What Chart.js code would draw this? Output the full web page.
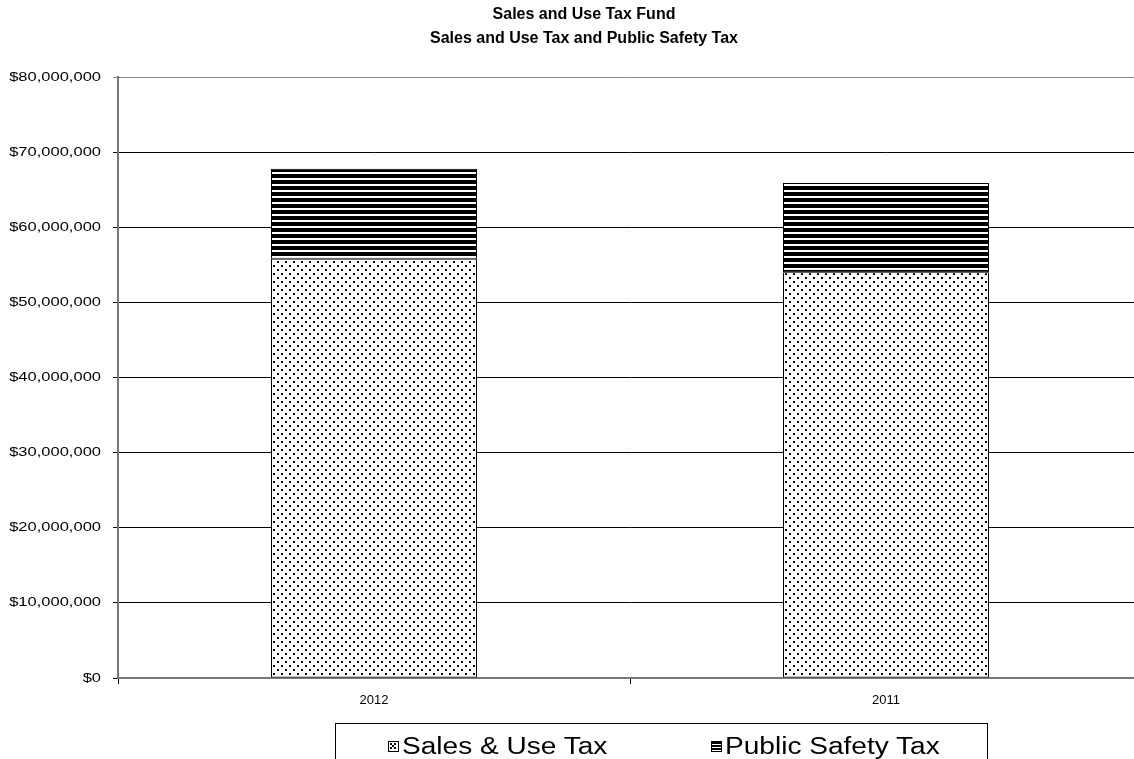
<!DOCTYPE html>
<html>
<head>
<meta charset="utf-8">
<script src="https://cdn.jsdelivr.net/npm/chart.js@4/dist/chart.umd.min.js"></script>
<style>
  body { margin: 0; background: #fff; font-family: Arial, 'Liberation Sans', sans-serif; }
  #wrap { position: relative; width: 1134px; height: 759px; overflow: hidden; }
  #title { position: absolute; left: 384px; width: 400px; top: 2px; text-align: center;
           font-weight: bold; font-size: 16px; line-height: 24px; color: #000; }
  #legend { position: absolute; left: 335px; top: 723px; width: 653px; height: 50px;
            border: 1px solid #000; box-sizing: border-box; color: #000; }
  .item { position: absolute; top: 9px; height: 26px; }
  .item canvas { position: absolute; left: 0; top: 8px; }
  .item span { position: absolute; left: 14px; top: 0; font-size: 23px; line-height: 26px;
               white-space: nowrap; transform: scaleX(1.22); transform-origin: 0 0; }
</style>
</head>
<body>
<div id="wrap">
  <canvas id="myChart" width="1142" height="759"></canvas>
  <div id="title">Sales and Use Tax Fund<br>Sales and Use Tax and Public Safety Tax</div>
  <div id="legend"></div>
</div>
<script>
const years = ['2012', '2011'];
const salesUseTax = [55800000, 54000000];
const publicSafetyTax = [12000000, 11900000];
const seriesNames = ['Sales & Use Tax', 'Public Safety Tax'];
const yTicks = [0, 10000000, 20000000, 30000000, 40000000, 50000000, 60000000, 70000000, 80000000];

// dotted fill
function dotPattern() {
  const c = document.createElement('canvas');
  c.width = 8; c.height = 8;
  const g = c.getContext('2d');
  g.fillStyle = '#fff';
  g.fillRect(0, 0, 8, 8);
  g.fillStyle = '#000';
  g.fillRect(1, 1, 2, 2);
  g.fillRect(5, 5, 2, 2);
  return g.createPattern(c, 'repeat');
}

// horizontal stripes
function stripePattern() {
  const c = document.createElement('canvas');
  c.width = 4; c.height = 6;
  const g = c.getContext('2d');
  g.fillStyle = '#000';
  g.fillRect(0, 0, 4, 6);
  g.fillStyle = '#fff';
  g.fillRect(0, 4, 4, 2);
  return g.createPattern(c, 'repeat');
}

const money = (v) => '$' + Number(v).toLocaleString('en-US');

// y labels are drawn a bit wider than normal, like the original
const wideYLabels = {
  id: 'wideYLabels',
  afterDraw(chart) {
    const s = chart.scales.y;
    const c = chart.ctx;
    c.save();
    c.fillStyle = '#000';
    c.font = '13px Arial, "Liberation Sans"';
    c.textAlign = 'right';
    c.textBaseline = 'middle';
    s.ticks.forEach(t => {
      c.save();
      c.translate(s.right - 17, s.getPixelForValue(t.value));
      c.scale(1.27, 1);
      c.fillText(money(t.value), 0, 0);
      c.restore();
    });
    c.restore();
  }
};

const ctx = document.getElementById('myChart').getContext('2d');
const chart = new Chart(ctx, {
  type: 'bar',
  data: {
    labels: years,
    datasets: [
      { label: seriesNames[0], data: salesUseTax, backgroundColor: dotPattern(),
        borderColor: '#000', borderWidth: 1, borderSkipped: false },
      { label: seriesNames[1], data: publicSafetyTax, backgroundColor: stripePattern(),
        borderColor: '#000', borderWidth: 1, borderSkipped: false }
    ]
  },
  options: {
    responsive: false,
    animation: false,
    layout: { padding: { top: 77, left: 0, right: 0, bottom: 0 } },
    datasets: { bar: { categoryPercentage: 1, barPercentage: 0.40234375 } },
    plugins: { legend: { display: false }, title: { display: false }, tooltip: { enabled: false } },
    scales: {
      x: {
        stacked: true,
        offset: true,
        afterFit: (s) => { s.height = 81; },
        grid: { offset: true, drawOnChartArea: false, tickLength: 6, color: '#000' },
        border: { color: '#777', width: 2 },
        ticks: { color: '#000', font: { family: 'Arial, Liberation Sans', size: 13 }, padding: 9 }
      },
      y: {
        stacked: true,
        min: 0,
        max: 80000000,
        afterFit: (s) => { s.width = 118; },
        afterBuildTicks: (s) => { s.ticks = yTicks.map(v => ({ value: v })); },
        grid: {
          color: (c) => (c.tick && (c.tick.value === 80000000) ? '#888' : '#000'),
          tickLength: 5
        },
        border: { color: '#777', width: 2 },
        ticks: { display: false }
      }
    }
  },
  plugins: [wideYLabels]
});

// legend with the same fills
const legend = document.getElementById('legend');
const itemLeft = [52, 375];
seriesNames.forEach((name, i) => {
  const item = document.createElement('div');
  item.className = 'item';
  item.style.left = itemLeft[i] + 'px';
  const sw = document.createElement('canvas');
  sw.width = 11; sw.height = 11;
  const g = sw.getContext('2d');
  if (i === 0) {
    g.fillStyle = '#fff';
    g.fillRect(0, 0, 11, 11);
    g.fillStyle = '#000';
    [[3, 3], [7, 3], [5, 5], [3, 7], [7, 7]].forEach(p => g.fillRect(p[0] - 1, p[1] - 1, 2, 2));
    g.strokeStyle = '#000';
    g.strokeRect(0.5, 0.5, 10, 10);
  } else {
    g.fillStyle = '#000';
    g.fillRect(0, 0, 11, 11);
    g.fillStyle = '#fff';
    g.fillRect(1, 3, 9, 1);
    g.fillRect(1, 6, 9, 1);
    g.fillRect(1, 9, 9, 1);
  }
  item.appendChild(sw);
  const t = document.createElement('span');
  t.textContent = name;
  item.appendChild(t);
  legend.appendChild(item);
});
</script>
</body>
</html>
